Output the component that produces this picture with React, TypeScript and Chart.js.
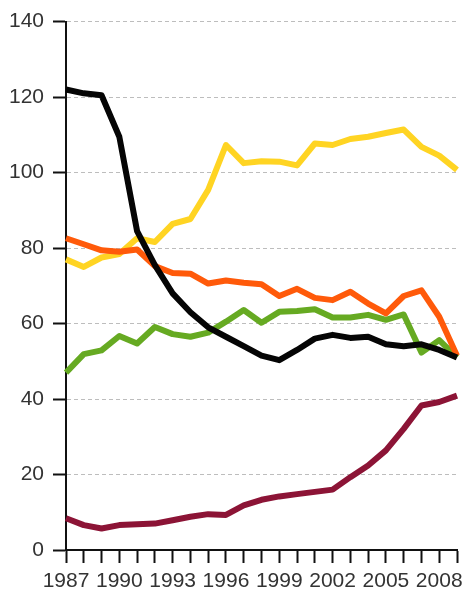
import React, { useEffect, useRef } from "react";
import { Chart, registerables } from "chart.js";

Chart.register(...registerables);

const years: string[] = [
  "1987", "1988", "1989", "1990", "1991", "1992", "1993", "1994", "1995", "1996", "1997", "1998",
  "1999", "2000", "2001", "2002", "2003", "2004", "2005", "2006", "2007", "2008", "2009",
];

const blackSeries: number[] = [122, 121, 120.5, 109.5, 84.5, 75.5, 68, 63, 59, 56.5, 54, 51.5, 50.3, 53, 56, 57, 56.2, 56.5, 54.5, 54, 54.5, 53, 51];
const orangeSeries: number[] = [82.6, 81, 79.4, 79, 79.6, 75.2, 73.4, 73.2, 70.6, 71.4, 70.8, 70.4, 67.3, 69.2, 66.8, 66.2, 68.4, 65.3, 62.7, 67.3, 68.8, 61.8, 51.5];
const yellowSeries: number[] = [77, 75, 77.5, 78.4, 82.6, 81.6, 86.4, 87.7, 95.4, 107.3, 102.5, 103, 102.9, 101.9, 107.7, 107.3, 108.9, 109.5, 110.5, 111.4, 106.8, 104.5, 100.7];
const greenSeries: number[] = [47, 51.9, 52.9, 56.7, 54.7, 59.1, 57.2, 56.5, 57.6, 60.5, 63.6, 60.2, 63.1, 63.3, 63.8, 61.6, 61.6, 62.3, 61, 62.4, 52.3, 55.6, 51];
const maroonSeries: number[] = [8.4, 6.6, 5.7, 6.6, 6.8, 7, 7.9, 8.8, 9.5, 9.3, 11.8, 13.3, 14.2, 14.8, 15.4, 16, 19.3, 22.4, 26.4, 32.1, 38.3, 39.2, 40.9];

const yTicks: number[] = [0, 20, 40, 60, 80, 100, 120, 140];

export default function App() {
  const ref = useRef<HTMLCanvasElement | null>(null);

  useEffect(() => {
    const prevMargin = document.body.style.margin;
    document.body.style.margin = "0";
    const canvas = ref.current;
    if (!canvas) return;
    const mk = (data: number[], color: string) => ({
      data,
      borderColor: color,
      backgroundColor: color,
      borderWidth: 6,
      pointRadius: 0,
      tension: 0,
      fill: false,
      borderJoinStyle: "round" as const,
      borderCapStyle: "butt" as const,
    });
    const chart = new Chart(canvas, {
      type: "line",
      data: {
        labels: years,
        datasets: [
          mk(blackSeries, "#050505"),
          mk(orangeSeries, "#FF5A0A"),
          mk(yellowSeries, "#FFD423"),
          mk(greenSeries, "#66AA22"),
          mk(maroonSeries, "#8C1436"),
        ],
      },
      options: {
        animation: false,
        responsive: false,
        maintainAspectRatio: false,
        layout: { padding: { top: 19, right: 9, left: 0, bottom: 0 } },
        plugins: { legend: { display: false }, tooltip: { enabled: false } },
        scales: {
          x: {
            type: "category",
            offset: false,
            grid: {
              drawOnChartArea: false,
              drawTicks: true,
              tickLength: 13,
              tickColor: "#111",
              tickWidth: 2,
            },
            border: { display: true, color: "#111", width: 2 },
            ticks: {
              autoSkip: false,
              maxRotation: 0,
              minRotation: 0,
              padding: 6,
              color: "#333",
              font: { family: "'Liberation Sans Narrow', 'Liberation Sans', Arial, sans-serif", size: 21 },
              callback: (_v: any, i: number) => ((Number(years[i]) - 1987) % 3 === 0 ? years[i] : ""),
            },
            afterFit: (s: any) => {
              s.height = 41;
            },
          },
          y: {
            min: 0,
            max: 140,
            afterBuildTicks: (s: any) => {
              s.ticks = yTicks.map((v) => ({ value: v }));
            },
            grid: {
              color: (c: any) => (c.tick && c.tick.value === 0 ? "rgba(0,0,0,0)" : "#bdbdbd"),
              lineWidth: 1,
              drawTicks: true,
              tickLength: 13,
              tickColor: "#111",
              tickWidth: 2,
            },
            border: { display: true, color: "#111", width: 2, dash: [4, 3] },
            ticks: {
              padding: 9,
              color: "#333",
              font: { family: "'Liberation Sans', Arial, sans-serif", size: 21 },
            },
            afterFit: (s: any) => {
              s.width = 66;
            },
          },
        },
      },
    });
    return () => {
      chart.destroy();
      document.body.style.margin = prevMargin;
    };
  }, []);

  return (
    <div style={{ position: "absolute", left: 0, top: 0, width: 466, height: 591, background: "#fff" }}>
      <canvas ref={ref} width={466} height={591} style={{ display: "block", width: 466, height: 591 }} />
    </div>
  );
}
